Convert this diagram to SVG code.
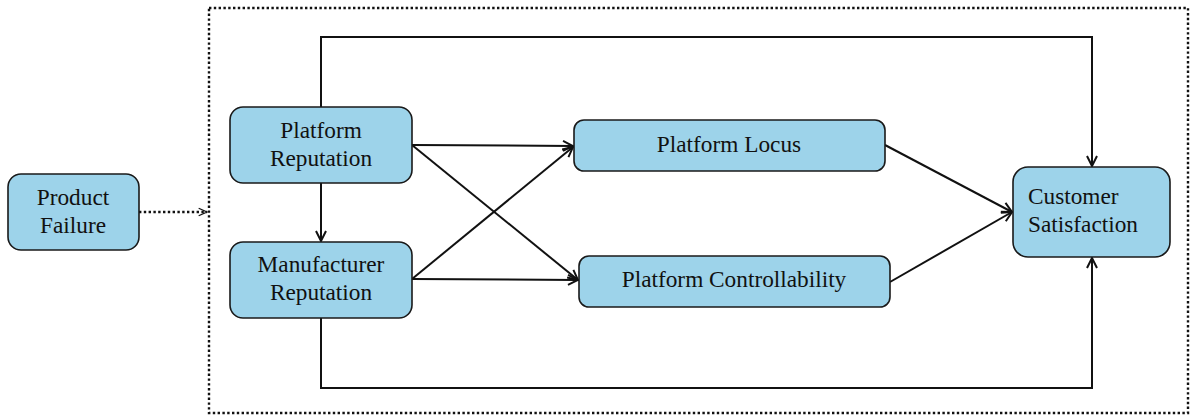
<svg xmlns="http://www.w3.org/2000/svg" width="1192" height="419" viewBox="0 0 1192 419">
  <style>
    .box { fill: #9dd3ea; stroke: #1a1a1a; stroke-width: 1.6; }
    .lbl { font-family: "Liberation Serif", "Times New Roman", serif; font-size: 23.3px; fill: #111; text-anchor: middle; }
    .lbl-left { text-anchor: start; }
    .edge { fill: none; stroke: #111; stroke-width: 2; }
    .dot { fill: none; stroke: #111; stroke-width: 2.4; stroke-dasharray: 2.4 2.4; }
  </style>
  <defs>
    <marker id="arrow" viewBox="0 0 12 12" refX="11" refY="6" markerWidth="12" markerHeight="12" markerUnits="userSpaceOnUse" orient="auto">
      <path d="M1,1 L11,6 L1,11" fill="none" stroke="#111" stroke-width="2"/>
    </marker>
    <marker id="arrowThin" viewBox="0 0 12 12" refX="11" refY="6" markerWidth="10" markerHeight="10" markerUnits="userSpaceOnUse" orient="auto">
      <path d="M1,1.5 L11,6 L1,10.5" fill="none" stroke="#111" stroke-width="1.6"/>
    </marker>
  </defs>

  <rect x="1" y="1" width="1190" height="417" fill="#ffffff" stroke="none"/>

  <!-- dotted frame around the model -->
  <rect id="frame" class="dot" x="209" y="8" width="979" height="405"/>

  <g id="connectors">
    <path class="dot" d="M139,212 L207,212" marker-end="url(#arrowThin)" stroke-width="2"/>
    <path class="edge" d="M321,107 L321,37 L1092,37 L1092,166" marker-end="url(#arrow)"/>
    <path class="edge" d="M321,318 L321,388 L1092,388 L1092,258" marker-end="url(#arrow)"/>
    <path class="edge" d="M321,183 L321,241" marker-end="url(#arrow)"/>
    <path class="edge" d="M412,145 L573,146" marker-end="url(#arrow)"/>
    <path class="edge" d="M412,145 L578,280" marker-end="url(#arrow)"/>
    <path class="edge" d="M412,279 L578,280" marker-end="url(#arrow)"/>
    <path class="edge" d="M412,279 L573,147" marker-end="url(#arrow)"/>
    <path class="edge" d="M885,145 L1012,212" marker-end="url(#arrow)"/>
    <path class="edge" d="M890,282 L1012,212" marker-end="url(#arrow)"/>
  </g>

  <g id="product-failure">
    <rect class="box" x="8" y="174" width="131" height="76" rx="13"/>
    <text class="lbl" x="73" y="205">Product</text>
    <text class="lbl" x="73" y="233">Failure</text>
  </g>

  <g id="platform-reputation">
    <rect class="box" x="230" y="107" width="182" height="76" rx="13"/>
    <text class="lbl" x="321" y="138">Platform</text>
    <text class="lbl" x="321" y="166">Reputation</text>
  </g>

  <g id="manufacturer-reputation">
    <rect class="box" x="230" y="242" width="182" height="76" rx="13"/>
    <text class="lbl" x="321" y="272">Manufacturer</text>
    <text class="lbl" x="321" y="300">Reputation</text>
  </g>

  <g id="platform-locus">
    <rect class="box" x="574" y="120" width="311" height="51" rx="10"/>
    <text class="lbl" x="729" y="152">Platform Locus</text>
  </g>

  <g id="platform-controllability">
    <rect class="box" x="579" y="256" width="311" height="51" rx="10"/>
    <text class="lbl" x="734" y="287">Platform Controllability</text>
  </g>

  <g id="customer-satisfaction">
    <rect class="box" x="1013" y="167" width="157" height="90" rx="15"/>
    <text class="lbl lbl-left" x="1028" y="204">Customer</text>
    <text class="lbl lbl-left" x="1028" y="232">Satisfaction</text>
  </g>
</svg>
